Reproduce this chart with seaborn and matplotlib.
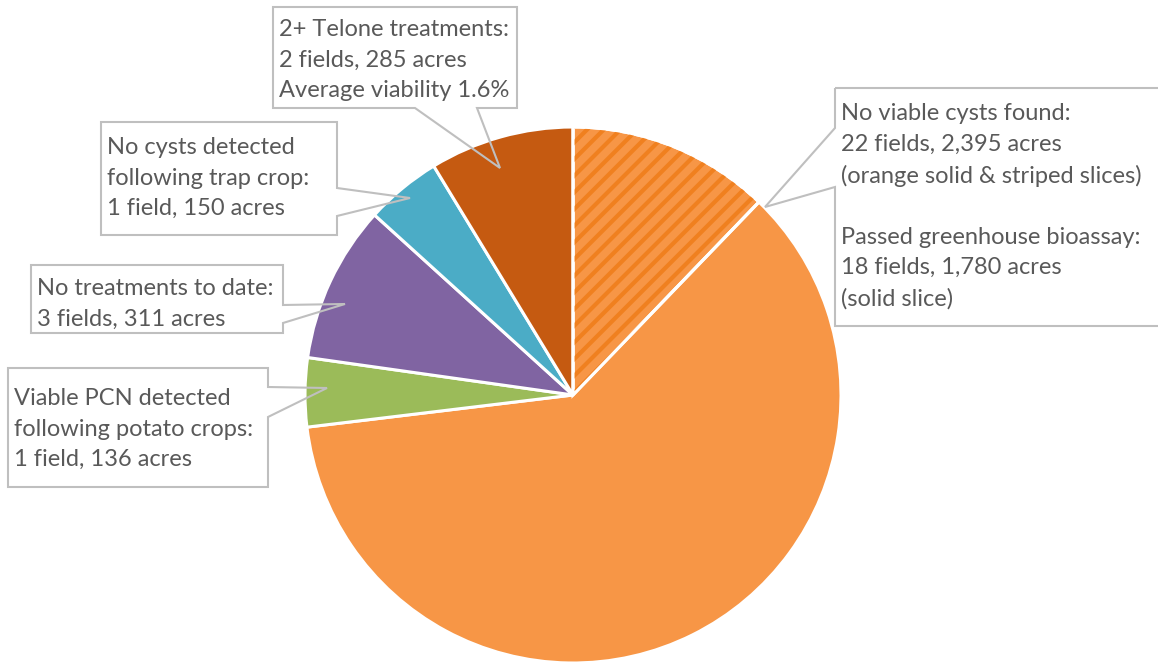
import numpy as np
import matplotlib
matplotlib.use("Agg")
import matplotlib.pyplot as plt
import seaborn as sns
from matplotlib.patches import Polygon, Rectangle, Wedge

# slice values (acres), clockwise from 12 o'clock
slices = ["No viable cysts (striped)", "Passed greenhouse bioassay", "Viable PCN detected",
          "No treatments to date", "No cysts after trap crop", "2+ Telone treatments"]
acres = [400, 1995, 136, 311, 150, 285]
colors = ["#F79646", "#F79646", "#9BBB59", "#8064A2", "#4BACC6", "#C55A11"]

label_texts = [
    "No viable cysts found:\n22 fields, 2,395 acres\n(orange solid & striped slices)\n\n"
    "Passed greenhouse bioassay:\n18 fields, 1,780 acres\n(solid slice)",
    "2+ Telone treatments:\n2 fields, 285 acres\nAverage viability 1.6%",
    "No cysts detected\nfollowing trap crop:\n1 field, 150 acres",
    "No treatments to date:\n3 fields, 311 acres",
    "Viable PCN detected\nfollowing potato crops:\n1 field, 136 acres",
]

sns.set_theme(style="white")
plt.rcParams["font.family"] = ["Lato", "DejaVu Sans"]
plt.rcParams["hatch.linewidth"] = 3.0

W, H = 1158, 664
fig = plt.figure(figsize=(W / 100, H / 100), dpi=100)
ax = fig.add_axes([0, 0, 1, 1])


def Y(y):
    return H - y


cx, cy, r = 573, Y(395), 268
wedges, _ = ax.pie(acres, colors=colors, startangle=90, counterclock=False,
                   center=(cx, cy), radius=r, frame=True,
                   wedgeprops=dict(edgecolor="white", linewidth=2.2))
ax.set_xlim(0, W)
ax.set_ylim(0, H)
ax.set_aspect("equal")
ax.axis("off")

# stripes on the first slice
w0 = wedges[0]
ax.add_patch(Wedge((cx, cy), r, w0.theta1, w0.theta2, facecolor="none",
                   edgecolor="#F0801F", hatch="//", linewidth=0,
                   zorder=w0.get_zorder() + 0.1))
ax.add_patch(Wedge((cx, cy), r, w0.theta1, w0.theta2, facecolor="none",
                   edgecolor="white", linewidth=2.2, zorder=w0.get_zorder() + 0.2))

# callout boxes: (x0, y0, x1, y1), pointer side, base pair, tip, text offset
boxes = [
    ((835, 88, 1175, 326), "left", (128, 187), (765, 207), 15),
    ((273, 7, 517, 108), "bottom", (415, 477), (500, 168), 12),
    ((101, 122, 337, 235), "right", (188, 216), (410, 198), 15),
    ((31, 265, 283, 333), "right", (305, 323), (345, 304), 13),
    ((8, 368, 268, 487), "right", (387, 417), (327, 388), 20),
]

for (x0, y0, x1, y1), side, (b0, b1), (tx, ty), _ in boxes:
    if side == "left":
        pts = [(x0, y0), (x1, y0), (x1, y1), (x0, y1), (x0, b1), (tx, ty), (x0, b0)]
    elif side == "right":
        pts = [(x0, y0), (x1, y0), (x1, b0), (tx, ty), (x1, b1), (x1, y1), (x0, y1)]
    else:
        pts = [(x0, y0), (x1, y0), (x1, y1), (b1, y1), (tx, ty), (b0, y1), (x0, y1)]
    ax.add_patch(Rectangle((x0, Y(y1)), x1 - x0, y1 - y0, facecolor="white",
                           edgecolor="none", zorder=5))
    ax.add_patch(Polygon([(px, Y(py)) for px, py in pts], closed=True,
                         facecolor="none", edgecolor="#BFBFBF", linewidth=1.5,
                         zorder=6))

for ((x0, y0, x1, y1), _, _, _, dy), txt in zip(boxes, label_texts):
    ax.text(x0 + 6, Y(y0 + dy), txt, ha="left", va="top", fontsize=17,
            color="#595959", linespacing=1.56, zorder=7)

fig.savefig("out.png", dpi=100)
